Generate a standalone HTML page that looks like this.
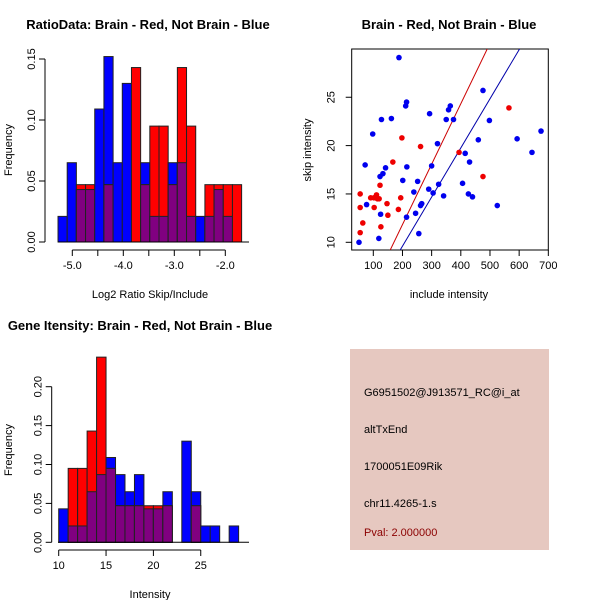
<!DOCTYPE html>
<html><head><meta charset="utf-8"><style>
body{margin:0;background:#fff}
svg{display:block;font-family:"Liberation Sans",sans-serif}
</style></head><body>
<svg id="s" width="600" height="600" viewBox="0 0 600 600" xmlns="http://www.w3.org/2000/svg">
<rect width="600" height="600" fill="#fff"/>
<text x="148" y="29" text-anchor="middle" font-size="13" font-weight="bold">RatioData: Brain - Red, Not Brain - Blue</text>
<text x="449" y="29" text-anchor="middle" font-size="13" font-weight="bold">Brain - Red, Not Brain - Blue</text>
<text x="140" y="330" text-anchor="middle" font-size="13" font-weight="bold">Gene Itensity: Brain - Red, Not Brain - Blue</text>
<text x="150" y="298" text-anchor="middle" font-size="11">Log2 Ratio Skip/Include</text>
<text x="150" y="598" text-anchor="middle" font-size="11">Intensity</text>
<text x="449" y="298" text-anchor="middle" font-size="11">include intensity</text>
<text transform="translate(12,150) rotate(-90)" text-anchor="middle" font-size="11">Frequency</text>
<text transform="translate(12,450) rotate(-90)" text-anchor="middle" font-size="11">Frequency</text>
<text transform="translate(311,150) rotate(-90)" text-anchor="middle" font-size="11">skip intensity</text>
<g>
<rect x="350" y="349" width="199" height="201" fill="#e6c8c0"/>
<text x="364" y="396" font-size="11">G6951502@J913571_RC@i_at</text>
<text x="364" y="433" font-size="11">altTxEnd</text>
<text x="364" y="470" font-size="11">1700051E09Rik</text>
<text x="364" y="507" font-size="11">chr11.4265-1.s</text>
<text x="364" y="536" font-size="11" fill="#8b0000">Pval: 2.000000</text>
</g>
</svg>
<script>
// Ratio histogram data (20 bins, width 0.18 from -5.28)
const ratioBinStart = -5.28, ratioBinWidth = 0.18;
const ratioBlue = [0.021,0.065,0.043,0.043,0.109,0.152,0.065,0.130,0,0.065,0.021,0.021,0.065,0.065,0.021,0.021,0.021,0.043,0.021,0];
const ratioRed  = [0,0,0.047,0.047,0,0.047,0,0,0.143,0.047,0.095,0.095,0.047,0.143,0.095,0,0.047,0.047,0.047,0.047];
const ratioXTicks = [-5.0,-4.5,-4.0,-3.5,-3.0,-2.5,-2.0];
const ratioXLabels = ["-5.0","","-4.0","","-3.0","","-2.0"];
const ratioYTicks = [0,0.05,0.10,0.15];
const ratioYLabels = ["0.00","0.05","0.10","0.15"];
// Intensity histogram (bins of width 1 from 10)
const intBinStart = 10, intBinWidth = 1;
const intBlue = [0.043,0.021,0.021,0.065,0.087,0.109,0.087,0.065,0.087,0.043,0.043,0.065,0,0.130,0.065,0.021,0.021,0,0.021];
const intRed  = [0,0.095,0.095,0.143,0.238,0.095,0.047,0.047,0.047,0.047,0.047,0.047,0,0,0.047,0,0,0,0];
const intXTicks = [10,15,20,25];
const intYTicks = [0,0.05,0.10,0.15,0.20];
const intYLabels = ["0.00","0.05","0.10","0.15","0.20"];
// Scatter data
const blueX = [51,72,77,98,119,123,125,128,133,142,162,188,201,211,214,214,215,239,245,252,256,262,266,290,293,300,305,320,324,341,350,358,364,375,406,415,426,430,440,460,476,498,525,593,644,675];
const blueY = [10.0,18.0,13.9,21.2,10.4,16.8,12.9,22.7,17.1,17.7,22.8,29.1,16.4,24.1,24.5,12.6,17.8,15.2,13.0,16.3,10.9,13.8,14.0,15.5,23.3,17.9,15.1,20.2,16.0,14.8,22.7,23.7,24.1,22.7,16.1,19.2,15.0,18.3,14.7,20.6,25.7,22.6,13.8,20.7,19.3,21.5];
const redX = [55,55,55,64,91,102,103,111,114,120,123,126,147,150,167,186,194,198,262,394,476,565];
const redY = [15.0,13.6,11.0,12.0,14.6,14.6,13.6,14.9,14.5,14.5,15.9,11.6,14.0,12.8,18.3,13.4,14.6,20.8,19.9,19.3,16.8,23.9];
const redLine = [-0.67,0.0625];   // intercept, slope
const blueLine = [-0.56,0.0508];
const scXTicks = [100,200,300,400,500,600,700];
const scYTicks = [10,15,20,25];

const svg = document.getElementById('s');
const NS = 'http://www.w3.org/2000/svg';
function mk(tag, attrs, parent){const e=document.createElementNS(NS,tag);for(const k in attrs)e.setAttribute(k,attrs[k]);(parent||svg).appendChild(e);return e;}

function hist(name, blue, red, start, width, sx, sy, x0, x1){
  const g = mk('g',{});
  
  
  for(let i=0;i<blue.length;i++){
    const a=start+i*width, b=a+width;
    const L=sx(a), W=sx(b)-sx(a);
    const draw=(v,col,nm)=>{ if(v<=0) return; const r=mk('rect',{x:L,y:sy(v),width:W,height:sy(0)-sy(v),fill:col,stroke:'#222','stroke-width':1},g);
      
       };
    draw(blue[i],'#0000ff','bar-blue-'+i);
    draw(red[i],'#ff0000','bar-red-'+i);
    if(blue[i]>0&&red[i]>0) draw(Math.min(blue[i],red[i]),'#800080','bar-overlap-'+i);
  }
  const base=mk('line',{x1:x0,x2:x1,y1:sy(0),y2:sy(0),stroke:'#000'},g);
  
  
}
function yaxis(name,x,ticks,labels,sy,off,drawLine){
  const g=mk('g',{stroke:'#000'});
  
  
  if(drawLine) mk('line',{x1:x,x2:x,y1:sy(ticks[0]),y2:sy(ticks[ticks.length-1])},g);
  ticks.forEach((t,i)=>{mk('line',{x1:x,x2:x-6,y1:sy(t),y2:sy(t)},g);
    const tx=mk('text',{transform:`translate(${x-off},${sy(t)}) rotate(-90)`,'text-anchor':'middle','font-size':11,stroke:'none'},g);tx.textContent=labels[i];
    
    });
}
function xaxis(name,y,ticks,labels,sx,drawLine){
  const g=mk('g',{stroke:'#000'});
  
  
  if(drawLine) mk('line',{y1:y,y2:y,x1:sx(ticks[0]),x2:sx(ticks[ticks.length-1])},g);
  ticks.forEach((t,i)=>{mk('line',{y1:y,y2:y+6,x1:sx(t),x2:sx(t)},g);
    if(labels[i]){const tx=mk('text',{x:sx(t),y:y+19,'text-anchor':'middle','font-size':11,stroke:'none'},g);tx.textContent=labels[i];
    
    }});
}

// Ratio histogram
const rsx=v=>72.3+(v+5)*51, rsy=v=>242-v*1220;
hist('ratio-hist',ratioBlue,ratioRed,ratioBinStart,ratioBinWidth,rsx,rsy,58,249);
yaxis('ratio-y-axis',45,ratioYTicks,ratioYLabels,rsy,10,true);
xaxis('ratio-x-axis',250,ratioXTicks,ratioXLabels,rsx,true);

// Intensity histogram
const isx=v=>58.7+(v-10)*9.47, isy=v=>542.3-v*778;
hist('intensity-hist',intBlue,intRed,intBinStart,intBinWidth,isx,isy,58,249);
yaxis('intensity-y-axis',51.7,intYTicks,intYLabels,isy,10,true);
xaxis('intensity-x-axis',550,intXTicks,intXTicks.map(String),isx,true);

// Scatter
const px0=351.7,px1=548.3,py0=49,py1=250;
const ssx=v=>373.3+(v-100)*0.2917, ssy=v=>242.3-(v-10)*9.67;
mk('clipPath',{id:'clp'}).appendChild(document.createElementNS(NS,'rect'));
const cr=svg.querySelector('#clp rect');cr.setAttribute('x',px0);cr.setAttribute('y',py0);cr.setAttribute('width',px1-px0);cr.setAttribute('height',py1-py0);
const box=mk('rect',{x:px0,y:py0,width:px1-px0,height:py1-py0,fill:'none',stroke:'#000'});


const lg=mk('g',{'clip-path':'url(#clp)'});


[[redLine,'#cc0000','red-fit-line'],[blueLine,'#0000aa','blue-fit-line']].forEach(([ln,c,nm])=>{
  const xa=0,xb=800;
  const l=mk('line',{x1:ssx(xa),y1:ssy(ln[0]+ln[1]*xa),x2:ssx(xb),y2:ssy(ln[0]+ln[1]*xb),stroke:c,'stroke-width':1},lg);
  
  
});
const pg=mk('g',{});


blueX.forEach((x,i)=>{const c=mk('circle',{cx:ssx(x),cy:ssy(blueY[i]),r:2.8,fill:'#0000ee'},pg);
  
  });
redX.forEach((x,i)=>{const c=mk('circle',{cx:ssx(x),cy:ssy(redY[i]),r:2.8,fill:'#ee0000'},pg);
  
  });
yaxis('scatter-y-axis',px0,scYTicks,scYTicks.map(String),ssy,17,false);
xaxis('scatter-x-axis',py1,scXTicks,scXTicks.map(String),ssx,false);
</script>
</body></html>
